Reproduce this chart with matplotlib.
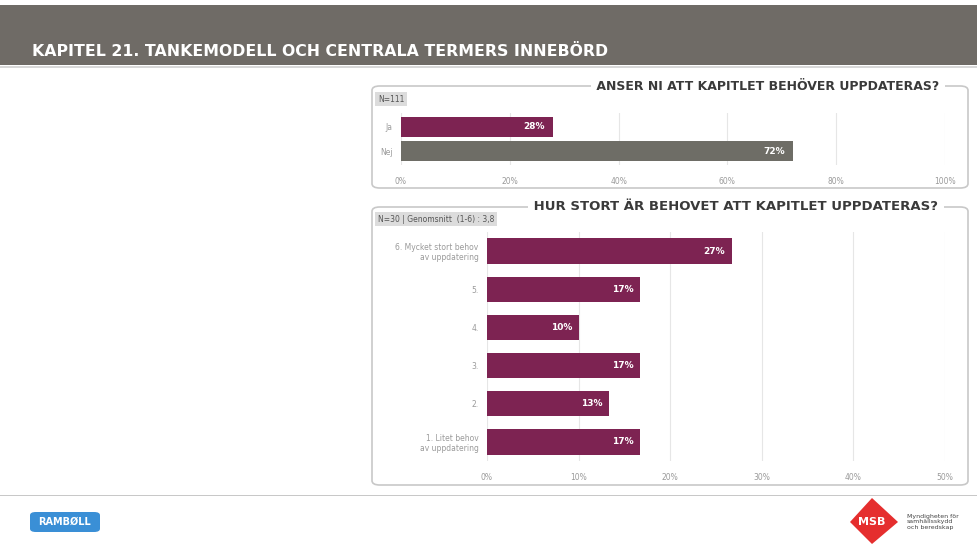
import matplotlib.pyplot as plt
import numpy as np
from matplotlib.patches import FancyBboxPatch, Rectangle, Polygon

W, H = 978, 544

# data
q1_labels = ['Ja', 'Nej']
q1_values = [27.9, 72.1]
q1_colors = ['#7d2352', '#6e6d66']

q2_labels = ['6. Mycket stort behov\nav uppdatering', '5.', '4.', '3.', '2.',
             '1. Litet behov\nav uppdatering']
q2_values = [26.7, 16.7, 10.0, 16.7, 13.3, 16.7]

purple = '#7d2352'
grid_c = '#e6e6e6'
tick_c = '#9a9a9a'


def px(x0, y0, x1, y1):
    # pixel box (top-left origin) -> figure fraction rect
    return [x0 / W, 1 - y1 / H, (x1 - x0) / W, (y1 - y0) / H]


fig = plt.figure(figsize=(W / 100, H / 100), dpi=100)
fig.patch.set_facecolor('white')

# header band
fig.patches.append(Rectangle((0, 1 - 65 / H), 1, 60 / H, transform=fig.transFigure,
                             facecolor='#6f6b66', edgecolor='none'))
fig.patches.append(Rectangle((0, 1 - 68 / H), 1, 2 / H, transform=fig.transFigure,
                             facecolor='#d8d8d8', edgecolor='none'))
fig.text(32 / W, 1 - 51 / H, 'KAPITEL 21. TANKEMODELL OCH CENTRALA TERMERS INNEBÖRD',
         color='white', fontsize=11.3, fontweight='bold', va='center', ha='left')


def panel(x0, y0, x1, y1, title, tx, fs):
    fig.patches.append(FancyBboxPatch((x0 / W, 1 - y1 / H), (x1 - x0) / W, (y1 - y0) / H,
                                      boxstyle='round,pad=0,rounding_size=0.008',
                                      transform=fig.transFigure, facecolor='white',
                                      edgecolor='#c8c8c8', linewidth=1.2))
    fig.text(tx / W, 1 - y0 / H, ' ' + title + ' ', color='#3a3a3a', fontsize=fs,
             fontweight='bold', ha='center', va='center',
             bbox=dict(facecolor='white', edgecolor='none', pad=1))


def nbox(x, y, s):
    fig.text(x / W, 1 - y / H, s, fontsize=5.5, color='#555555', ha='left', va='center',
             bbox=dict(facecolor='#dcdcdc', edgecolor='none', pad=2))


panel(372, 86, 968, 188, 'ANSER NI ATT KAPITLET BEHÖVER UPPDATERAS?', 768, 9.0)
nbox(378, 99, 'N=111')

ax1 = fig.add_axes(px(401, 113, 945, 165))
y1 = np.arange(len(q1_values))
ax1.barh(y1, q1_values, height=0.8, color=q1_colors)
for yy, v in zip(y1, q1_values):
    ax1.text(v - 1.5, yy, f'{round(v)}%', color='white', fontsize=6.5, fontweight='bold',
             ha='right', va='center')
ax1.set_xlim(0, 100)
ax1.set_ylim(1.55, -0.55)
ax1.set_yticks(y1)
ax1.set_yticklabels(q1_labels)
ax1.set_xticks(np.arange(0, 101, 20))
ax1.set_xticklabels([f'{t}%' for t in range(0, 101, 20)])

panel(372, 207, 968, 485, 'HUR STORT ÄR BEHOVET ATT KAPITLET UPPDATERAS?', 736, 9.5)
nbox(378, 219, 'N=30 | Genomsnitt  (1-6) : 3,8')

ax2 = fig.add_axes(px(487, 232, 945, 461))
y2 = np.arange(len(q2_values))
ax2.barh(y2, q2_values, height=0.66, color=purple)
for yy, v in zip(y2, q2_values):
    ax2.text(v - 0.7, yy, f'{round(v)}%', color='white', fontsize=6.5, fontweight='bold',
             ha='right', va='center')
ax2.set_xlim(0, 50)
ax2.set_ylim(5.5, -0.5)
ax2.set_yticks(y2)
ax2.set_yticklabels(q2_labels)
ax2.set_xticks(np.arange(0, 51, 10))
ax2.set_xticklabels([f'{t}%' for t in range(0, 51, 10)])

for ax in (ax1, ax2):
    for s in ax.spines.values():
        s.set_visible(False)
    ax.set_zorder(3)
    ax.set_axisbelow(True)
    ax.xaxis.grid(True, color=grid_c, linewidth=0.8)
    ax.tick_params(length=0, labelsize=5.5, colors=tick_c, pad=6)
    ax.set_facecolor('none')
ax1.tick_params(axis='x', pad=9)
ax2.tick_params(axis='x', pad=9)

# footer
fig.patches.append(Rectangle((0, 1 - 496 / H), 1, 1.5 / H, transform=fig.transFigure,
                             facecolor='#c8c8c8', edgecolor='none'))
fig.patches.append(FancyBboxPatch((30 / W, 1 - 532 / H), 70 / W, 20 / H,
                                  boxstyle='round,pad=0,rounding_size=0.006',
                                  transform=fig.transFigure, facecolor='#3a8fd6',
                                  edgecolor='none'))
fig.text(65 / W, 1 - 522 / H, 'RAMBØLL', color='white', fontsize=7, fontweight='bold',
         ha='center', va='center')
fig.patches.append(Polygon([(850 / W, 1 - 522 / H), (872 / W, 1 - 498 / H),
                            (898 / W, 1 - 522 / H), (872 / W, 1 - 544 / H)],
                           closed=True, transform=fig.transFigure,
                           facecolor='#e52e2e', edgecolor='none'))
fig.text(872 / W, 1 - 522 / H, 'MSB', color='white', fontsize=8, fontweight='bold',
         ha='center', va='center')
fig.text(907 / W, 1 - 522 / H, 'Myndigheten för\nsamhällsskydd\noch beredskap',
         color='#444444', fontsize=4.5, ha='left', va='center', linespacing=1.2)

fig.savefig('out.png', dpi=100)
